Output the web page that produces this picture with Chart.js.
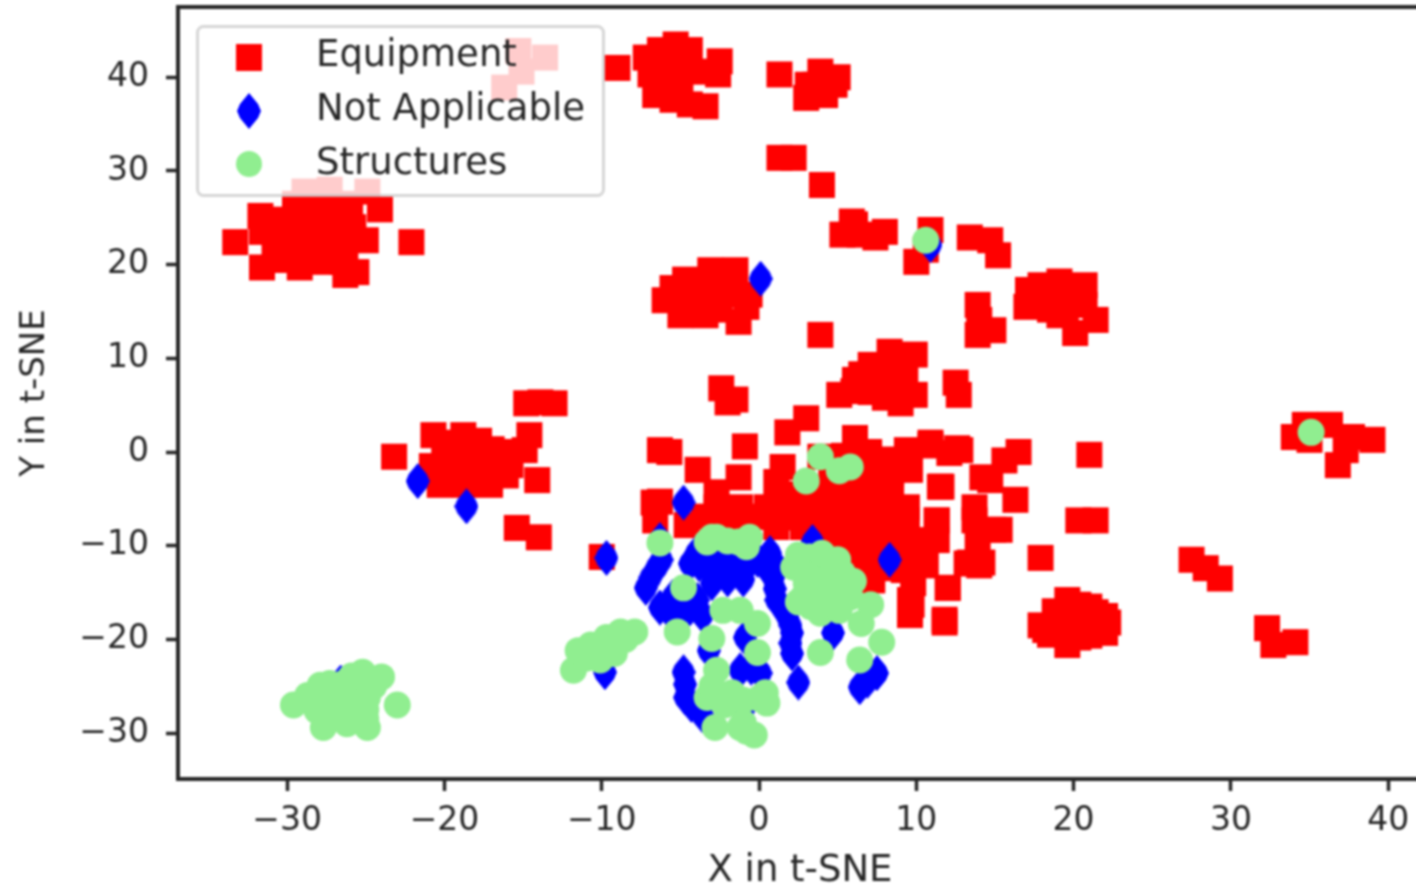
<!DOCTYPE html>
<html>
<head>
<meta charset="utf-8">
<title>t-SNE scatter</title>
<script src="https://cdn.jsdelivr.net/npm/chart.js@4"></script>
<style>
  html, body { margin: 0; padding: 0; background: #fff; overflow: hidden; }
  #wrap { position: relative; width: 1424px; height: 886px; }
  canvas { filter: blur(0.8px); }
</style>
</head>
<body>
<div id="wrap"><canvas id="chart"></canvas></div>
<script>
const seriesNames = ["Equipment", "Not Applicable", "Structures"];
const xTicks = [-30, -20, -10, 0, 10, 20, 30, 40];
const yTicks = [-30, -20, -10, 0, 10, 20, 30, 40];

// values, [x, y] in t-SNE units
const equipmentPoints = [
  [-15.3,42.8],[-13.6,42.1],[-15.1,40.6],[-16.2,38.9],
  [-9.0,41.0],[-7.2,42.1],[-6.3,42.9],[-5.3,43.5],[-4.4,42.9],[-6.9,40.3],[-6.0,40.8],[-5.0,41.3],[-4.1,40.6],
  [-6.6,38.1],[-5.5,37.6],[-2.5,41.7],[-2.6,40.3],[-3.4,36.9],[-4.4,37.1],[-6.3,38.7],[-5.0,39.2],
  [1.3,40.3],[3.0,37.8],[3.9,40.6],[4.8,39.2],[3.6,39.2],[5.0,40.0],[4.2,38.1],[3.1,39.2],
  [1.3,31.4],[2.2,31.4],[4.0,28.5],
  [5.9,24.6],[5.3,23.2],[6.4,23.2],[8.0,23.5],[7.4,22.9],[6.1,24.3],
  [10.9,23.7],[10.0,20.3],[10.6,21.6],
  [13.4,22.9],[14.7,22.6],[15.2,21.0],
  [17.2,16.2],[17.9,17.8],[19.1,18.2],[20.7,17.8],[18.5,15.2],[20.7,15.7],[19.1,14.6],[21.4,14.1],[20.1,12.7],[18.8,16.2],[19.8,16.8],
  [18.2,17.0],[20.0,17.5],[19.5,15.2],[17.1,17.3],[17.0,15.5],
  [13.9,15.7],[13.9,12.5],[14.9,13.0],[14.0,14.1],
  [-6.0,16.2],[-4.7,18.4],[-3.1,19.4],[-1.5,19.4],[-0.6,16.8],[-5.0,14.6],[-3.4,14.6],[-1.3,13.9],[-3.8,16.8],[-2.2,16.8],[-4.4,16.2],[-2.5,15.2],
  [-5.5,17.5],[-3.0,18.0],[-1.8,18.0],[-4.0,15.5],[-0.8,15.5],
  [3.9,12.5],
  [5.1,6.1],[6.1,7.7],[7.1,9.3],[8.3,10.7],[9.9,10.4],[7.7,7.2],[9.3,7.7],[9.0,5.2],[9.9,6.1],[7.1,6.4],
  [8.5,8.5],[7.5,8.7],[6.5,8.3],[8.5,6.5],[6.0,6.5],[8.0,5.8],[9.0,9.5],
  [12.5,7.4],[12.7,6.1],
  [-2.4,6.8],[-2.0,5.3],[-1.5,5.6],
  [34.0,1.6],[34.7,2.9],[35.0,1.3],[36.3,2.9],[37.7,1.6],[39.0,1.3],[37.3,0.2],[36.8,-1.4],
  [21.0,-0.3],[20.3,-7.3],[21.4,-7.3],[17.9,-11.3],
  [27.5,-11.5],[28.4,-12.4],[29.3,-13.5],
  [32.3,-18.8],[32.7,-20.6],[34.1,-20.3],
  [17.9,-18.5],[19.6,-15.8],[21.4,-17.1],[22.2,-18.2],[19.6,-20.6],[21.0,-19.6],[19.8,-18.5],[20.8,-17.8],
  [18.8,-17.0],[20.3,-16.3],[18.5,-19.5],[20.3,-19.8],[22.0,-19.3],[19.0,-18.0],[22.0,-17.5],[19.8,-17.0],[21.0,-16.5],[18.2,-19.0],
  [16.5,0.0],[15.6,-0.9],[14.7,-3.0],[16.3,-5.1],[15.3,-8.3],[13.7,-7.3],[14.0,-12.1],[13.4,-11.8],[12.0,-14.5],[11.8,-17.9],
  [9.7,-16.3],[10.6,-12.1],[11.5,-3.7],[11.3,-7.3],[12.8,0.2],[10.9,0.7],[9.3,-1.4],
  [-6.3,0.2],[-5.7,0.0],[-0.9,0.6],[1.8,2.1],[3.0,3.6],[6.1,1.5],
  [-3.9,-1.9],[-1.3,-2.7],[1.5,-1.6],[1.1,-3.2],[-2.7,-4.3],[-6.7,-5.4],[-6.3,-5.3],[-6.6,-7.3],[-4.6,-7.8],
  [-2.7,-5.9],[-1.2,-5.9],[0.5,-5.9],[2.2,-6.0],[3.9,-5.4],[5.6,-5.1],[7.2,-5.1],[9.4,-5.9],[9.4,-7.3],
  [1.1,-8.0],[2.8,-8.0],[4.5,-8.3],[6.0,-9.1],[7.5,-8.7],[9.0,-8.7],[-2.7,-7.8],[-1.0,-7.8],
  [-3.5,-6.9],[-2.2,-6.9],[-0.4,-6.9],[0.8,-6.9],[2.0,-7.0],[3.4,-6.9],[4.7,-6.8],[6.0,-6.9],[7.3,-6.9],[8.3,-6.9],
  [1.2,-4.6],[2.5,-4.5],[3.7,-4.4],[5.0,-4.4],[6.4,-4.3],[8.4,-4.3],
  [4.6,-2.0],[6.2,-2.4],[8.4,-2.2],[5.4,-0.4],[7.0,0.0],[8.3,-0.8],
  [3.5,-9.3],[4.8,-9.6],[7.0,-9.6],[8.2,-9.8],[9.8,-9.4],[6.6,-10.8],[7.6,-10.9],[9.2,-12.6],[7.8,-12.4],
  [5.3,-3.3],[3.9,-0.5],[7.5,-1.2],[7.5,-2.7],[7.2,-4.1],[9.6,-1.9],[9.4,0.2],[10.9,1.0],[12.6,0.4],[11.6,-3.7],[12.1,-0.1],
  [5.6,-10.8],[8.5,-11.5],[6.4,-12.5],[7.2,-13.7],[9.8,-10.8],[9.8,-14.0],[9.6,-15.8],[12.0,-14.5],[11.8,-18.2],[9.6,-17.4],
  [11.3,-9.4],[11.3,-7.3],[13.7,-5.9],[14.2,-2.7],[13.9,-9.1],[14.2,-11.8],[13.2,-11.9],[14.9,-8.3],
  [-10.0,-11.2],
  [-20.7,1.8],[-23.2,-0.5],[-20.0,-0.9],[-18.4,0.7],[-17.1,-0.9],[-15.8,-1.4],[-20.3,-3.5],[-18.7,-3.5],[-17.1,-3.5],[-16.1,-2.5],
  [-20.0,1.0],[-19.0,-1.5],[-18.0,-1.5],[-17.0,0.3],[-19.7,-2.2],[-18.2,-2.2],[-16.5,-2.0],[-20.8,-1.5],[-18.8,1.8],[-17.8,1.2],[-16.0,0.0],
  [-14.9,0.2],[-14.6,1.8],[-14.1,-3.0],[-19.3,0.2],[-13.9,5.3],[-14.8,5.2],[-13.0,5.2],
  [-15.4,-8.1],[-14.0,-9.1],
  [-33.3,22.4],[-31.6,23.5],[-31.6,19.7],[-29.2,19.7],[-26.3,18.9],[-25.6,19.2],[-24.1,25.9],[-25.0,22.6],[-22.1,22.4],
  [-28.9,27.8],[-27.3,28.0],[-24.9,27.8],
  [-30.8,24.8],[-29.2,25.3],[-27.6,25.3],[-26.3,25.3],[-30.8,21.6],[-29.2,22.1],[-27.6,22.1],[-26.3,21.6],[-27.9,20.3],[-29.8,21.0],
  [-30.0,24.0],[-28.5,24.0],[-27.0,24.0],[-25.8,24.0],[-30.0,23.0],[-28.5,23.3],[-27.0,23.3],[-25.8,23.0],
  [-30.5,20.5],[-28.5,20.5],[-26.5,20.3],[-31.7,25.2],[-29.5,26.5],[-27.5,26.5],[-26.0,26.5]
];

const notApplicablePoints = [
  [-21.7,-3.1],[-18.6,-5.8],[0.1,18.5],[-4.8,-5.4],[-9.7,-11.3],[8.3,-11.5],[10.9,22.1],[-26.6,-24.6],
  [-6.3,-9.4],[-6.5,-12.3],[-7.2,-14.5],[-6.3,-16.6],[-5.2,-16.9],[-4.4,-16.7],[-3.6,-17.4],
  [-4.4,-11.9],[-3.3,-12.3],[-2.3,-12.6],[-1.2,-12.3],[-0.1,-11.5],[0.7,-10.8],[0.9,-13.4],[1.1,-15.8],[1.8,-17.6],[2.1,-19.3],[2.1,-21.5],[2.5,-24.6],[3.4,-9.6],
  [4.7,-19.3],[-0.9,-19.8],[6.4,-25.1],[7.5,-23.6],[6.9,-24.4],
  [-4.8,-23.5],[-4.7,-26.2],[-3.6,-28.1],[-1.2,-23.3],[0.1,-23.6],[-0.9,-27.2],[-3.2,-21.2],[-9.8,-23.5],
  [-3.8,-12.0],[-2.8,-12.6],[-1.8,-12.6],[-0.7,-12.0],[-2.0,-13.6],[-1.0,-13.6],[-3.0,-14.0],[-6.9,-13.4],[-6.2,-11.5],
  [-5.8,-16.8],[-4.8,-16.8],[-3.9,-15.8],[-5.5,-15.5],[1.0,-14.6],[1.5,-16.7],[2.0,-18.5],[2.0,-20.4],[0.3,-12.0],
  [-0.5,-10.8],[1.0,-12.0],[-2.5,-11.0],[-4.0,-10.8],[-1.5,-11.0],[-4.7,-24.8],[-4.3,-27.0],[-0.5,-23.0]
];

const structuresPoints = [
  [10.6,22.6],[35.1,2.1],[3.9,-0.5],[5.8,-1.6],[5.1,-2.0],[3.0,-3.1],[-6.3,-9.7],
  [-2.7,-9.1],[-0.6,-9.1],[-0.8,-10.1],[-3.3,-9.6],[-4.8,-14.5],[-5.2,-19.2],[-3.0,-19.9],[-0.1,-21.4],[-2.7,-23.3],[-0.1,-18.3],[-2.3,-16.9],[-1.2,-16.9],
  [3.9,-21.4],[6.4,-22.2],[7.8,-20.3],[6.5,-18.3],[7.1,-16.3],
  [2.2,-12.3],[3.2,-11.2],[4.1,-12.3],[5.3,-12.9],[2.8,-15.5],[3.9,-17.2],[4.3,-15.5],[5.8,-15.5],[3.7,-13.7],[5.1,-16.9],
  [3.0,-13.0],[4.0,-14.5],[5.0,-14.0],[3.0,-14.0],[2.5,-11.0],[4.0,-10.8],[5.0,-11.5],[3.5,-15.5],[5.0,-15.0],[2.5,-16.0],[3.3,-16.5],[6.0,-13.8],
  [-3.0,-9.1],[-2.0,-9.5],[-1.3,-9.6],
  [-3.3,-26.2],[-2.3,-26.5],[-1.7,-25.7],[0.4,-25.7],[0.5,-26.8],[-2.8,-29.4],[-1.2,-29.4],[-0.3,-30.2],
  [-3.0,-25.0],[-1.0,-26.5],[-2.8,-26.0],[-2.2,-27.0],[0.0,-26.3],[-1.0,-28.9],[-0.8,-29.8],
  [-11.8,-23.3],[-11.5,-21.2],[-10.3,-21.2],[-10.1,-22.2],[-9.2,-21.5],[-9.7,-19.8],[-8.8,-19.2],[-7.9,-19.2],
  [-9.5,-20.8],[-10.7,-20.6],[-11.0,-22.0],[-8.5,-20.0],[-10.0,-20.5],
  [-29.6,-27.0],[-28.7,-26.0],[-27.9,-24.9],[-25.2,-23.5],[-24.0,-24.0],[-27.1,-26.8],[-26.0,-25.4],[-24.9,-26.2],[-23.0,-27.0],
  [-27.7,-29.4],[-26.2,-29.0],[-24.9,-29.4],[-28.1,-27.6],[-25.6,-27.6],[-24.7,-24.4],[-27.1,-25.1],[-25.8,-24.0],
  [-27.0,-26.0],[-26.5,-27.5],[-25.5,-26.0],[-25.0,-27.5],[-26.0,-28.0],[-27.5,-28.0],[-24.5,-25.0],[-28.0,-26.5],[-26.3,-24.6],[-25.0,-28.5],
  [-27.3,-24.7],[-25.9,-23.9]
];

const inkColor = "#262626";
const equipmentColor = "#ff0000";
const notApplicableColor = "#0000ff";
const structuresColor = "#90ee90";

const toXY = (pairs) => pairs.map((p) => ({ x: p[0], y: p[1] }));
const minusLabel = (v) => String(v).replace("-", "\u2212");

// thin diamond marker, Chart.js has no such point style
function thinDiamond(color) {
  const c = document.createElement("canvas");
  c.width = 24;
  c.height = 36;
  const g = c.getContext("2d");
  g.fillStyle = color;
  g.beginPath();
  g.moveTo(12, 0);
  g.lineTo(21, 11);
  g.lineTo(24, 18);
  g.lineTo(21, 25);
  g.lineTo(12, 36);
  g.lineTo(3, 25);
  g.lineTo(0, 18);
  g.lineTo(3, 11);
  g.closePath();
  g.fill();
  return c;
}
const diamondMarker = thinDiamond(notApplicableColor);

// matplotlib style legend box inside the axes, half see-through
const boxLegend = {
  id: "boxLegend",
  afterDatasetsDraw(chart) {
    const ctx = chart.ctx;
    ctx.save();
    ctx.beginPath();
    ctx.roundRect(197.5, 26.5, 406, 169, 6);
    ctx.fillStyle = "rgba(255,255,255,0.8)";
    ctx.fill();
    ctx.lineWidth = 3;
    ctx.strokeStyle = "rgba(204,204,204,0.8)";
    ctx.stroke();

    const rows = [57, 111, 164];
    const textY = [56, 110, 164];
    ctx.font = "37px 'DejaVu Sans'";
    ctx.textBaseline = "middle";
    seriesNames.forEach((name, i) => {
      ctx.fillStyle = inkColor;
      ctx.fillText(name, 316, textY[i]);
    });
    ctx.fillStyle = equipmentColor;
    ctx.fillRect(236, rows[0] - 13, 26, 27);
    ctx.drawImage(diamondMarker, 237, rows[1] - 18);
    ctx.fillStyle = structuresColor;
    ctx.beginPath();
    ctx.arc(249, rows[2], 13, 0, Math.PI * 2);
    ctx.fill();
    ctx.restore();
  }
};

const topSpine = {
  id: "topSpine",
  afterDraw(chart) {
    const { ctx, chartArea } = chart;
    ctx.save();
    ctx.strokeStyle = inkColor;
    ctx.lineWidth = 4;
    ctx.beginPath();
    ctx.moveTo(chartArea.left, chartArea.top);
    ctx.lineTo(chartArea.right, chartArea.top);
    ctx.stroke();
    ctx.restore();
  }
};

const axisFont = { family: "'DejaVu Sans'", size: 33 };

new Chart(document.getElementById("chart"), {
  type: "scatter",
  data: {
    datasets: [
      {
        label: seriesNames[0],
        data: toXY(equipmentPoints),
        order: 3,
        pointStyle: "rect",
        pointRadius: 18.4,
        pointHoverRadius: 18.4,
        backgroundColor: equipmentColor,
        borderWidth: 0
      },
      {
        label: seriesNames[1],
        data: toXY(notApplicablePoints),
        order: 2,
        pointStyle: diamondMarker,
        backgroundColor: notApplicableColor,
        borderWidth: 0
      },
      {
        label: seriesNames[2],
        data: toXY(structuresPoints),
        order: 1,
        pointStyle: "circle",
        pointRadius: 13.5,
        pointHoverRadius: 13.5,
        backgroundColor: structuresColor,
        borderWidth: 0
      }
    ]
  },
  options: {
    responsive: true,
    maintainAspectRatio: false,
    animation: false,
    layout: { autoPadding: false, padding: { top: 7, left: 0, right: 2, bottom: 0 } },
    plugins: { legend: { display: false }, tooltip: { enabled: false } },
    scales: {
      x: {
        type: "linear",
        min: -36.94,
        max: 42.15,
        afterFit: (s) => { s.height = 107; s.paddingLeft = 0; s.paddingRight = 0; },
        afterBuildTicks: (s) => { s.ticks = xTicks.map((v) => ({ value: v })); },
        grid: { drawOnChartArea: false, drawTicks: true, tickLength: 12, tickWidth: 3.5, tickColor: inkColor },
        border: { display: true, color: inkColor, width: 4 },
        ticks: {
          autoSkip: false,
          maxRotation: 0,
          padding: 11,
          color: inkColor,
          font: axisFont,
          callback: (v) => minusLabel(v)
        },
        title: {
          display: true,
          text: "X in t-SNE",
          color: inkColor,
          font: { family: "'DejaVu Sans'", size: 37, lineHeight: 1 },
          padding: { top: 0, bottom: -4 }
        }
      },
      y: {
        type: "linear",
        min: -34.9,
        max: 47.5,
        afterFit: (s) => { s.width = 178; s.paddingTop = 0; s.paddingBottom = 0; },
        afterBuildTicks: (s) => { s.ticks = yTicks.map((v) => ({ value: v })); },
        grid: { drawOnChartArea: false, drawTicks: true, tickLength: 12, tickWidth: 3.5, tickColor: inkColor },
        border: { display: true, color: inkColor, width: 4 },
        ticks: {
          autoSkip: false,
          padding: 17,
          color: inkColor,
          font: axisFont,
          callback: (v) => minusLabel(v)
        },
        title: {
          display: true,
          text: "Y in t-SNE",
          color: inkColor,
          font: { family: "'DejaVu Sans'", size: 34, lineHeight: 1 },
          padding: { top: 18, bottom: 0 }
        }
      }
    }
  },
  plugins: [boxLegend, topSpine]
});
</script>
</body>
</html>
